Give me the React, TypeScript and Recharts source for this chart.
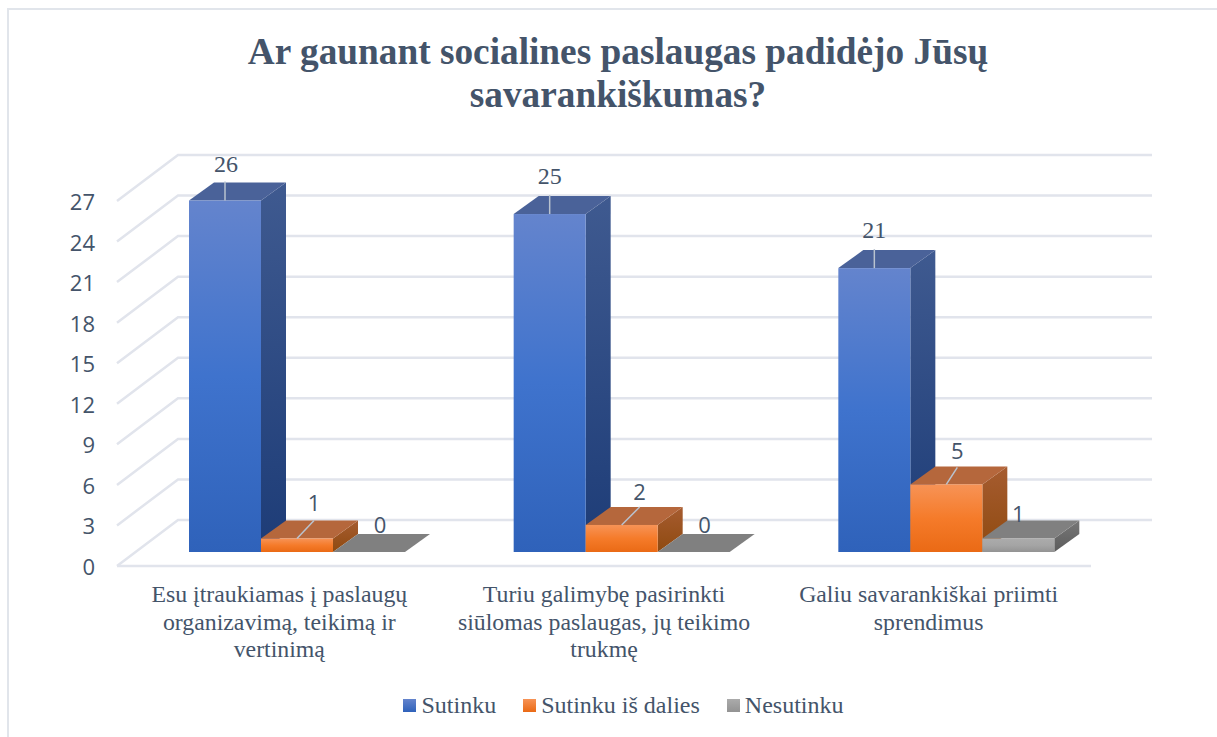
import React from "react";
import { BarChart, Bar, XAxis, YAxis, CartesianGrid, Legend, LabelList } from "recharts";

const categories = [
  "Esu įtraukiamas į paslaugų\norganizavimą, teikimą ir\nvertinimą",
  "Turiu galimybę pasirinkti\nsiūlomas paslaugas, jų teikimo\ntrukmę",
  "Galiu savarankiškai priimti\nsprendimus",
];
const sutinku = [26, 25, 21];
const sutinkuIsDalies = [1, 2, 5];
const nesutinku = [0, 0, 1];
const yTicks = [0, 3, 6, 9, 12, 15, 18, 21, 24, 27];
const titleLines = ["Ar gaunant socialines paslaugas padidėjo Jūsų", "savarankiškumas?"];

const data = categories.map((name, i) => ({
  name,
  sutinku: sutinku[i],
  sutinkuIsDalies: sutinkuIsDalies[i],
  nesutinku: nesutinku[i],
}));

const SERIF = "'Liberation Serif', serif";
const SANS = "'Open Sans', sans-serif";
const TEXT = "#44546a";
const GRID = "#e1e4ec";

// 3D look: the wall sits this far behind the axis, bars sit part of the way in
const WALL_DX = 61;
const WALL_DY = -46;
const BAR_DX = 18;
const BAR_DY = -14;
const DEPTH_DX = 25;
const DEPTH_DY = -18;

const series = [
  {
    key: "sutinku",
    label: "Sutinku",
    id: "blue",
    front: ["#6484cd", "#3f73cd", "#2f62ba"],
    side: ["#3f5a90", "#1d3c77"],
    top: "#4a6299",
    font: SERIF,
    fontSize: 24,
    offsets: [[1, -37], [0, -38], [0, -38]],
    leader: [[0, -19], [0, -19], [0, -19]],
  },
  {
    key: "sutinkuIsDalies",
    label: "Sutinku iš dalies",
    id: "orange",
    front: ["#f79356", "#f57b2a", "#ea6a15"],
    side: ["#a65c30", "#8f4a10"],
    top: "#b5673c",
    font: SANS,
    fontSize: 22,
    offsets: [[17, -36], [18, -34], [11, -34]],
    leader: [[17, -18], [18, -18], [11, -17]],
  },
  {
    key: "nesutinku",
    label: "Nesutinku",
    id: "grey",
    front: ["#ababab", "#a5a5a5", "#939393"],
    side: ["#777777", "#5c5c5c"],
    top: "#808080",
    font: SANS,
    fontSize: 22,
    offsets: [[11, -28], [11, -28], [0, -25]],
    leader: [null, null, null],
  },
];

const makeBox = (s: any) => (props: any) => {
  const x = props.x + BAR_DX;
  const y = props.y + BAR_DY;
  const { width: w, height: h } = props;
  return (
    <g>
      {h > 0 && (
        <path
          d={`M${x + w},${y} l${DEPTH_DX},${DEPTH_DY} v${h} l${-DEPTH_DX},${-DEPTH_DY} z`}
          fill={`url(#${s.id}Side)`}
        />
      )}
      <path d={`M${x},${y} h${w} l${DEPTH_DX},${DEPTH_DY} h${-w} z`} fill={s.top} />
      {h > 0 && <rect x={x} y={y} width={w} height={h} fill={`url(#${s.id}Front)`} />}
    </g>
  );
};

const makeLabel = (s: any) => (props: any) => {
  const { x, y, width, value, index } = props;
  const cx = x + BAR_DX + width / 2;
  const top = y + BAR_DY;
  const off = s.offsets[index];
  const lead = s.leader[index];
  return (
    <g>
      {lead && (
        <line x1={cx} y1={top} x2={cx + lead[0]} y2={top + lead[1]} stroke="#b9c3cf" strokeWidth={1.5} />
      )}
      <text x={cx + off[0]} y={top + off[1]} textAnchor="middle" dominantBaseline="central" fontSize={s.fontSize} fontFamily={s.font} fill={TEXT}>
        {value}
      </text>
    </g>
  );
};

const WallLine = (props: any) => {
  const { x1, x2, y1 } = props;
  return (
    <polyline
      points={`${x1},${y1} ${x1 + WALL_DX},${y1 + WALL_DY} ${x2 + WALL_DX},${y1 + WALL_DY}`}
      fill="none"
      stroke={GRID}
      strokeWidth={2.5}
    />
  );
};

const CategoryTick = (props: any) => {
  const { x, y, payload } = props;
  return (
    <text x={x} textAnchor="middle" fontSize={23.8} fontFamily={SERIF} fill={TEXT}>
      {payload.value.split("\n").map((line: string, i: number) => (
        <tspan key={i} x={x} y={y + 28 + i * 27.5}>
          {line}
        </tspan>
      ))}
    </text>
  );
};

const ValueTick = (props: any) => {
  const { x, y, payload } = props;
  return (
    <text x={x} y={y} textAnchor="end" dominantBaseline="central" fontSize={22} fontFamily={SANS} fill={TEXT}>
      {payload.value}
    </text>
  );
};

const LegendBox = () => (
  <div style={{ height: 71, display: "flex", justifyContent: "center", alignItems: "center", paddingLeft: 156, boxSizing: "border-box", paddingTop: 8, fontFamily: SERIF, fontSize: 24, color: TEXT }}>
    {series.map((s) => (
      <div key={s.key} style={{ display: "flex", alignItems: "center", marginRight: s.id === "grey" ? 0 : 27 }}>
        <span style={{ width: 13, height: 13, marginRight: 5, background: `linear-gradient(${s.front[0]}, ${s.front[2]})` }} />
        {s.label}
      </div>
    ))}
  </div>
);

export default function App() {
  return (
    <div style={{ position: "absolute", left: 0, top: 0, width: 1217, height: 737, overflow: "hidden", background: "#fff" }}>
      <BarChart
        width={1217}
        height={737}
        data={data}
        margin={{ top: 201, right: 126, bottom: 0, left: 0 }}
        barSize={72}
        barGap={0}
      >
        <defs>
          {series.map((s) => (
            <React.Fragment key={s.id}>
              <linearGradient id={`${s.id}Front`} x1="0" y1="0" x2="0" y2="1">
                <stop offset="0" stopColor={s.front[0]} />
                <stop offset="0.5" stopColor={s.front[1]} />
                <stop offset="1" stopColor={s.front[2]} />
              </linearGradient>
              <linearGradient id={`${s.id}Side`} x1="0" y1="0" x2="0" y2="1">
                <stop offset="0" stopColor={s.side[0]} />
                <stop offset="1" stopColor={s.side[1]} />
              </linearGradient>
            </React.Fragment>
          ))}
        </defs>
        <path d="M8,737 V9 H1217" fill="none" stroke="#e1e5eb" strokeWidth={2} />
        <text textAnchor="middle" fontFamily={SERIF} fontWeight="bold" fontSize={37.3} fill={TEXT}>
          {titleLines.map((line, i) => (
            <tspan key={i} x={618} y={64 + i * 43}>
              {line}
            </tspan>
          ))}
        </text>
        <CartesianGrid vertical={false} horizontal={(p: any) => <WallLine key={p.y1} {...p} />} />
        <XAxis
          dataKey="name"
          interval={0}
          height={100}
          tickLine={false}
          axisLine={{ stroke: GRID, strokeWidth: 2.5 }}
          tick={<CategoryTick />}
        />
        <YAxis
          width={117}
          domain={[0, 27]}
          ticks={yTicks}
          tickLine={false}
          axisLine={false}
          tickMargin={16}
          tick={<ValueTick />}
        />
        <Legend verticalAlign="bottom" content={<LegendBox />} />
        {series.map((s) => (
          <Bar key={s.key} dataKey={s.key} isAnimationActive={false} shape={makeBox(s)}>
            <LabelList dataKey={s.key} content={makeLabel(s)} />
          </Bar>
        ))}
      </BarChart>
    </div>
  );
}
